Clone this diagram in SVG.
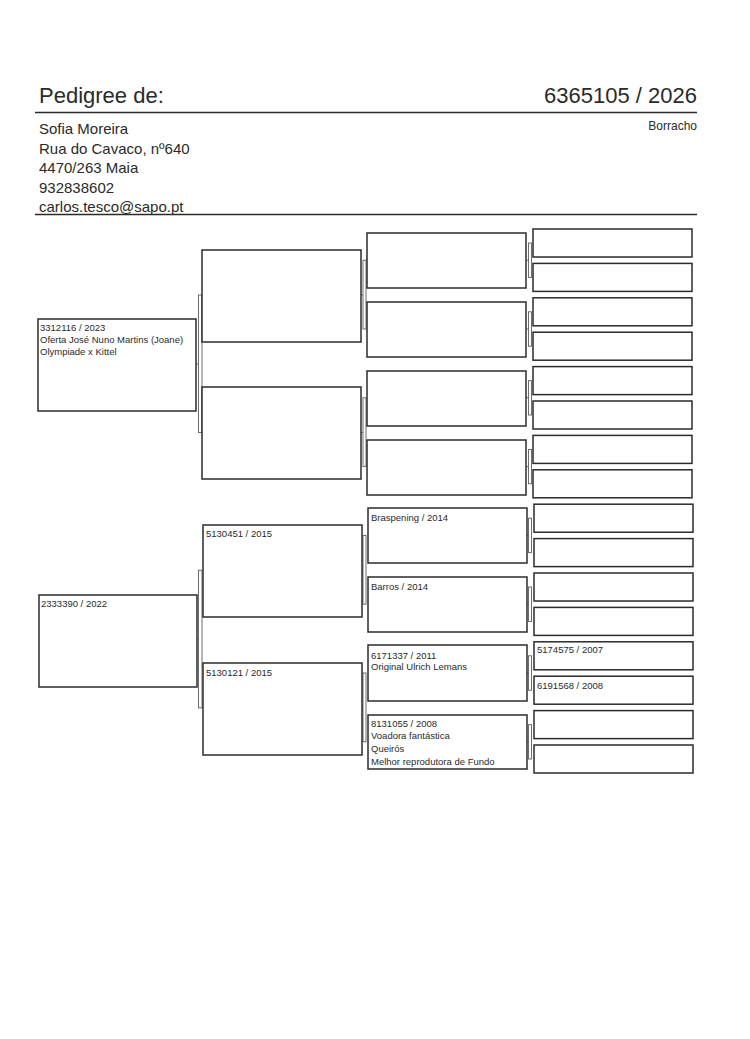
<svg xmlns="http://www.w3.org/2000/svg" width="750" height="1039" viewBox="0 0 750 1039">
<style>
.bg{fill:#ffffff}
.box{fill:#ffffff;stroke:#2b2b2b;stroke-width:1.5}
.br{fill:none;stroke:#5e5e5e;stroke-width:0.9}
.rule{stroke:#2b2b2b;stroke-width:1.6}
.t{font-family:"Liberation Sans",Arial,sans-serif;fill:#2a2a2a}
.h{font-size:22px}
.a{font-size:15px}
.s{font-size:12px}
.b{font-size:9.5px}
</style>
<rect class="bg" x="0" y="0" width="750" height="1039"/>
<g id="header">
<text class="t h" x="39" y="103">Pedigree de:</text>
<text class="t h" x="697" y="103" text-anchor="end">6365105 / 2026</text>
<line class="rule" x1="35" y1="112.5" x2="697" y2="112.5"/>
<text class="t s" x="697" y="130" text-anchor="end">Borracho</text>
<text class="t a" x="39" y="134">Sofia Moreira</text>
<text class="t a" x="39" y="153.5">Rua do Cavaco, nº640</text>
<text class="t a" x="39" y="173">4470/263 Maia</text>
<text class="t a" x="39" y="192.5">932838602</text>
<text class="t a" x="39" y="212">carlos.tesco@sapo.pt</text>
<line class="rule" x1="35" y1="214.5" x2="697" y2="214.5"/>
</g>
<g id="connectors">
<rect class="br" x="198.5" y="295" width="3.5" height="137.6"/>
<line class="br" x1="196" y1="364" x2="198.5" y2="364"/>
<rect class="br" x="198.5" y="570.2" width="3.5" height="137.6"/>
<line class="br" x1="197" y1="639" x2="198.5" y2="639"/>
<rect class="br" x="363" y="260.2" width="3" height="68.8"/>
<line class="br" x1="361" y1="295" x2="363" y2="295"/>
<rect class="br" x="363" y="397.8" width="3" height="68.8"/>
<line class="br" x1="361" y1="432.6" x2="363" y2="432.6"/>
<rect class="br" x="363" y="535.4" width="3" height="68.8"/>
<line class="br" x1="361" y1="570.2" x2="363" y2="570.2"/>
<rect class="br" x="363" y="673" width="3" height="68.8"/>
<line class="br" x1="361" y1="707.8" x2="363" y2="707.8"/>
<rect class="br" x="528.5" y="243" width="3" height="34.4"/>
<line class="br" x1="526" y1="260.2" x2="528.5" y2="260.2"/>
<rect class="br" x="528.5" y="311.8" width="3" height="34.4"/>
<line class="br" x1="526" y1="329" x2="528.5" y2="329"/>
<rect class="br" x="528.5" y="380.6" width="3" height="34.4"/>
<line class="br" x1="526" y1="397.8" x2="528.5" y2="397.8"/>
<rect class="br" x="528.5" y="449.4" width="3" height="34.4"/>
<line class="br" x1="526" y1="466.6" x2="528.5" y2="466.6"/>
<rect class="br" x="528.5" y="518.2" width="3" height="34.4"/>
<line class="br" x1="526" y1="535.4" x2="528.5" y2="535.4"/>
<rect class="br" x="528.5" y="587" width="3" height="34.4"/>
<line class="br" x1="526" y1="604.2" x2="528.5" y2="604.2"/>
<rect class="br" x="528.5" y="655.8" width="3" height="34.4"/>
<line class="br" x1="526" y1="673" x2="528.5" y2="673"/>
<rect class="br" x="528.5" y="724.6" width="3" height="34.4"/>
<line class="br" x1="526" y1="741.8" x2="528.5" y2="741.8"/>
</g>
<g id="n1"><rect class="box" x="38" y="319" width="158" height="92"/>
<text class="t b" x="40" y="331">3312116 / 2023</text>
<text class="t b" x="40" y="343">Oferta José Nuno Martins (Joane)</text>
<text class="t b" x="40" y="355">Olympiade x Kittel</text></g>
<g id="n2"><rect class="box" x="39" y="595" width="158" height="92"/>
<text class="t b" x="41" y="607">2333390 / 2022</text></g>
<g id="n3"><rect class="box" x="202" y="250" width="159" height="92"/></g>
<g id="n4"><rect class="box" x="202" y="387" width="159" height="92"/></g>
<g id="n5"><rect class="box" x="203" y="525" width="159" height="92"/>
<text class="t b" x="206" y="537">5130451 / 2015</text></g>
<g id="n6"><rect class="box" x="203" y="663" width="159" height="92"/>
<text class="t b" x="206" y="676">5130121 / 2015</text></g>
<g id="n7"><rect class="box" x="367" y="233" width="159" height="55"/></g>
<g id="n8"><rect class="box" x="367" y="302" width="159" height="55"/></g>
<g id="n9"><rect class="box" x="367" y="371" width="159" height="55"/></g>
<g id="n10"><rect class="box" x="367" y="440" width="159" height="55"/></g>
<g id="n11"><rect class="box" x="368" y="508" width="159" height="55"/>
<text class="t b" x="371" y="521">Braspening / 2014</text></g>
<g id="n12"><rect class="box" x="368" y="577" width="159" height="55"/>
<text class="t b" x="371" y="590">Barros / 2014</text></g>
<g id="n13"><rect class="box" x="368" y="645" width="159" height="56"/>
<text class="t b" x="371" y="659">6171337 / 2011</text>
<text class="t b" x="371" y="670">Original Ulrich Lemans</text></g>
<g id="n14"><rect class="box" x="368" y="715" width="159" height="54"/>
<text class="t b" x="371" y="727">8131055 / 2008</text>
<text class="t b" x="371" y="739">Voadora fantástica</text>
<text class="t b" x="371" y="752">Queirós</text>
<text class="t b" x="371" y="765">Melhor reprodutora de Fundo</text></g>
<g id="n15"><rect class="box" x="533" y="229" width="159" height="28"/></g>
<g id="n16"><rect class="box" x="533" y="263.4" width="159" height="28"/></g>
<g id="n17"><rect class="box" x="533" y="297.8" width="159" height="28"/></g>
<g id="n18"><rect class="box" x="533" y="332.2" width="159" height="28"/></g>
<g id="n19"><rect class="box" x="533" y="366.6" width="159" height="28"/></g>
<g id="n20"><rect class="box" x="533" y="401" width="159" height="28"/></g>
<g id="n21"><rect class="box" x="533" y="435.4" width="159" height="28"/></g>
<g id="n22"><rect class="box" x="533" y="469.8" width="159" height="28"/></g>
<g id="n23"><rect class="box" x="534" y="504.2" width="159" height="28"/></g>
<g id="n24"><rect class="box" x="534" y="538.6" width="159" height="28"/></g>
<g id="n25"><rect class="box" x="534" y="573" width="159" height="28"/></g>
<g id="n26"><rect class="box" x="534" y="607.4" width="159" height="28"/></g>
<g id="n27"><rect class="box" x="534" y="641.8" width="159" height="28"/>
<text class="t b" x="537" y="653">5174575 / 2007</text></g>
<g id="n28"><rect class="box" x="534" y="676.2" width="159" height="28"/>
<text class="t b" x="537" y="689">6191568 / 2008</text></g>
<g id="n29"><rect class="box" x="534" y="710.6" width="159" height="28"/></g>
<g id="n30"><rect class="box" x="534" y="745" width="159" height="28"/></g>
</svg>
